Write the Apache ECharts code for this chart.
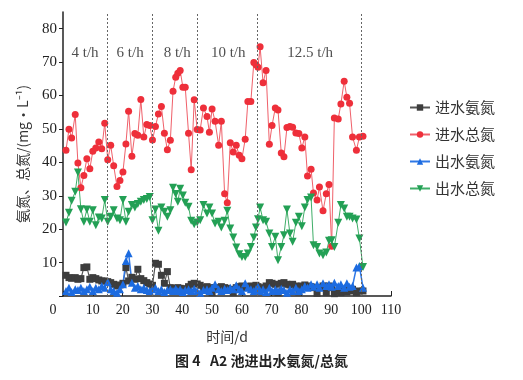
<!DOCTYPE html>
<html><head><meta charset="utf-8">
<script src="https://cdn.jsdelivr.net/npm/echarts@6/dist/echarts.min.js"></script>
<style>html,body{margin:0;padding:0;background:#fff}#c{width:523px;height:380px}</style>
</head><body><div id="c"></div>
<script>
var days = [1,2,2.9,4.1,5,6,7,8,9,10, 11,12,13,14,15,16,17,18.1,19.1,20.1, 21.1,22,23.1,24.1,25.1,26.1,27.1,28.1,29.1,30, 31,32,33,34,35,36,36.9,37.8,38.5,39.3, 40.2,41,42.1,43,44,45,46,47.1,48.3,49.1, 50,51,52.2,53.1,54.2,55.1,56.1,57.1,58.1,59.1, 60,61.1,62,63,64,64.7,65.4,66.1,67.1,68.1, 69.2,70.1,71.2,72.1,73.2,74.1,75.1,76.1,77,78.1, 79.1,80.1,81.1,82,83.2,84,85.2,86,87.2,88.3, 89.2,90.1,91,92.3,93.2,94.3,95.2,96.1,97.1,98.4, 99.4,100.6];
var inflowNH4 = [6.2,5.5,5.3,5.5,5.0,5.2,8.5,8.7,5.0,5.5, 5.2,4.8,4.5,4.5,4.3,4.0,3.5,3.0,3.3,3.8, 8.5,4.5,5.6,5.0,8.0,5.2,4.6,4.0,3.6,3.2, 9.8,9.5,6.2,3.8,7.3,2.5,2.3,2.2,2.5,2.3, 2.0,2.2,2.8,3.5,3.8,3.6,3.2,2.5,2.8,2.5, 1.0,2.5,2.2,2.8,2.5,2.3,2.0,1.0,2.5,2.8, 3.0,2.5,2.8,3.0,2.5,3.2,2.8,2.5,2.2,3.0, 4.0,3.8,3.5,1.0,3.8,4.0,3.5,3.3,3.5,3.0, 1.2,3.0,3.3,3.0,2.8,2.5,0.8,2.5,3.0,1.0, 3.0,2.5,0.7,1.5,1.0,2.0,1.2,1.5,2.0,1.0, 1.5,1.5];
var inflowTN = [43.6,49.9,47.3,54.3,39.8,32.4,36.1,41.1,38.1,43.3, 44.3,46.1,44.1,51.7,40.8,45.1,39.0,32.8,34.6,37.1, 45.5,55.3,41.8,48.6,48.1,58.8,47.6,51.3,51.0,46.7, 50.7,54.5,56.7,48.7,43.8,46.6,61.3,65.5,66.7,67.5, 62.5,62.5,48.7,37.8,58.7,49.8,49.7,56.3,53.7,49.0, 56.0,52.3,45.1,52.3,30.6,27.9,45.9,43.1,45.1,42.1, 41.1,46.9,58.2,58.2,69.9,69.2,68.5,74.6,63.8,67.5, 45.4,51.0,56.3,55.7,42.8,41.7,50.4,50.7,50.5,48.8, 48.6,44.3,47.6,35.9,37.9,30.8,28.7,32.6,25.5,30.6, 33.4,14.9,53.3,53.0,57.5,64.3,59.5,57.7,47.6,43.6, 47.6,47.8];
var outflowNH4 = [1.5,2.5,1.2,2.0,1.8,2.5,1.5,2.0,2.8,1.5, 2.5,2.0,3.0,2.5,4.2,2.0,1.5,1.0,2.0,3.5, 10.5,12.8,4.0,2.5,3.0,2.0,2.5,1.8,1.5,2.0, 2.5,1.5,2.0,1.2,1.8,2.0,1.5,2.2,1.5,2.0, 1.2,1.8,2.0,1.5,2.2,1.5,1.0,1.8,2.0,1.5, 2.5,3.5,2.0,1.5,2.2,1.8,2.5,2.0,3.2,2.0, 1.5,3.8,2.5,2.0,1.5,2.0,2.8,1.5,2.0,1.2, 2.5,1.5,2.0,1.5,2.2,1.8,1.0,2.0,1.5,2.5, 1.5,2.0,3.0,2.5,3.5,2.8,3.5,2.5,3.8,3.0, 3.5,2.8,4.0,3.0,3.5,2.5,3.8,2.8,3.0,8.5, 9.0,2.5];
var outflowTN = [22.0,24.9,28.5,31.2,37.0,26.0,22.2,25.9,22.2,25.7, 21.2,23.5,23.2,28.7,22.2,23.7,25.7,23.2,22.7,28.7, 22.2,25.2,27.2,26.5,27.5,28.2,28.7,29.0,29.6,22.7, 25.9,19.5,26.5,25.2,23.7,25.7,32.4,30.5,28.2,32.1, 30.1,27.9,26.7,22.5,21.5,22.0,22.7,27.2,24.7,26.5, 24.7,21.7,22.2,20.5,22.5,25.5,20.2,17.5,14.5,12.5, 11.7,11.7,12.7,14.7,17.5,20.5,23.0,26.5,22.7,22.2, 18.7,14.7,17.7,10.7,14.7,18.2,25.9,18.7,16.2,21.9, 23.7,20.9,26.5,28.7,29.5,15.2,14.7,12.7,12.2,13.0, 16.5,16.7,14.7,21.9,27.2,26.2,23.7,23.7,23.2,22.9, 17.2,8.7];
var seriesNames = ['进水氨氮','进水总氮','出水氨氮','出水总氮'];
var phaseBounds = [15,30,45,65,100];
var phaseLabels = ['4 t/h','6 t/h','8 t/h','10 t/h','12.5 t/h'];
var phaseLabelX = [7.4,22.5,38.3,55.4,82.9];
var phaseLabelY = 72.7;

function pairs(v){ return days.map(function(d,i){ return [d, v[i]]; }); }
var serif = 'Liberation Serif';
var cjk = 'Noto Sans CJK SC';

var chart = echarts.init(document.getElementById('c'), null, {renderer:'canvas'});
function mk(name, data, color, lineColor, symbol, size, rotate, lw){
  return {
    name: name, type: 'line', data: pairs(data),
    symbol: symbol, symbolSize: size, symbolRotate: rotate || 0,
    itemStyle: {color: color},
    lineStyle: {color: lineColor, width: lw || 1},
    emphasis: {disabled: true}, animation: false, z: 3
  };
}
var s0 = mk(seriesNames[0], inflowNH4, '#3d3d3d', '#555555', 'rect', 7, 0, 1.2);
s0.markLine = {
  silent: true, symbol: ['none','none'], animation: false,
  label: {show: false},
  lineStyle: {type: [2,2], color: '#666', width: 1},
  data: phaseBounds.map(function(b){ return {xAxis: b}; })
};
var option = {
  backgroundColor: '#fff',
  animation: false,
  title: {
    text: '图 4   A2 池进出水氨氮/总氮',
    left: 'center', top: 349,
    textStyle: {fontFamily: cjk, fontSize: 14, fontWeight: 'bold', color: '#222'}
  },
  legend: {
    orient: 'vertical', left: 404, top: 94,
    itemWidth: 20, itemHeight: 8, itemGap: 10,
    textStyle: {fontFamily: cjk, fontSize: 15, color: '#333', lineHeight: 17},
    data: seriesNames
  },
  grid: {left: 63, right: 132, top: 12, bottom: 84},
  xAxis: {
    type: 'value', min: 0, max: 110, interval: 10,
    name: '时间/d', nameLocation: 'middle', nameGap: 34,
    nameTextStyle: {fontFamily: cjk, fontSize: 14, color: '#333'},
    axisLine: {show: true, lineStyle: {color: '#222', width: 1.5}},
    axisTick: {show: true, inside: true, length: 5, lineStyle: {color: '#222'}},
    splitLine: {show: false},
    axisLabel: {
      fontFamily: serif, fontSize: 14, color: '#222', margin: 7,
      formatter: function(v){ return v === 0 ? '{z|0}' : String(v); },
      rich: {z: {fontFamily: serif, fontSize: 14, color: '#222', padding: [0, 20, 0, 0]}}
    }
  },
  yAxis: {
    type: 'value', min: 0, max: 85, interval: 10,
    name: '氨氮、总氮/(mg·L⁻¹)', nameLocation: 'middle', nameGap: 33,
    nameTextStyle: {fontFamily: cjk, fontSize: 14, color: '#333'},
    axisLine: {show: true, lineStyle: {color: '#222', width: 1.5}},
    axisTick: {show: true, inside: false, length: 4, lineStyle: {color: '#222'}},
    splitLine: {show: false},
    axisLabel: {
      fontFamily: serif, fontSize: 15, color: '#222', margin: 6, showMaxLabel: false,
      formatter: function(v){ return (v === 0 || v % 10 !== 0) ? '' : String(v); }
    }
  },
  series: [
    s0,
    mk(seriesNames[1], inflowTN, '#ee2f3a', '#f0606a', 'circle', 7),
    mk(seriesNames[2], outflowNH4, '#1c6be0', '#2f78e6', 'triangle', 8, 0, 1.5),
    mk(seriesNames[3], outflowTN, '#23a055', '#3fae68', 'triangle', 8, 180),
    {
      type: 'scatter', silent: true, symbolSize: 0, animation: false,
      data: phaseLabelX.map(function(x){ return [x, phaseLabelY]; }),
      label: {
        show: true, position: 'inside', color: '#222',
        fontFamily: serif, fontSize: 15,
        formatter: function(p){ return phaseLabels[p.dataIndex]; }
      }
    }
  ]
};
chart.setOption(option);
</script>
</body></html>
